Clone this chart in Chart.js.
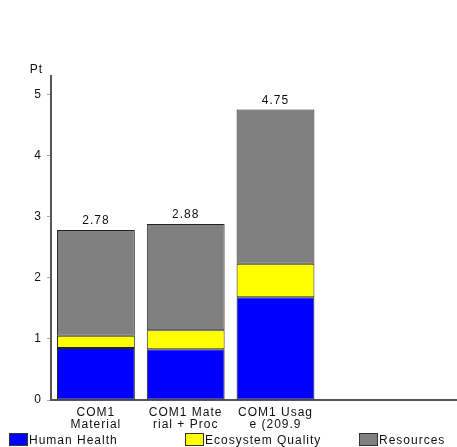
<!DOCTYPE html>
<html>
<head>
<meta charset="utf-8">
<script src="https://cdn.jsdelivr.net/npm/chart.js@4/dist/chart.umd.min.js"></script>
<style>
  body { margin: 0; background: #fff; font-family: "Liberation Sans", Arial, sans-serif; }
  #wrap { position: relative; width: 457px; height: 447px; overflow: hidden; }
  #chart { position: absolute; left: 0; top: 0; }
  .leg { position: absolute; top: 433px; font-size: 12px; letter-spacing: 1px; color: #111; line-height: 14px; white-space: nowrap; }
  .leg span { display: inline-block; width: 17px; height: 11px; border: 1px solid #333; vertical-align: -2px; margin-right: 1px; }
</style>
</head>
<body>
<div id="wrap">
  <canvas id="chart" width="500" height="447"></canvas>
  <div class="leg" style="left:9px"><span style="background:#0000ff"></span>Human Health</div>
  <div class="leg" style="left:185px"><span style="background:#ffff00"></span>Ecosystem Quality</div>
  <div class="leg" style="left:359px"><span style="background:#808080"></span>Resources</div>
</div>
<script>
const categories = [['COM1', 'Material'], ['COM1 Mate', 'rial + Proc'], ['COM1 Usag', 'e (209.9'], '', ''];
const humanHealth = [0.85, 0.83, 1.68];
const ecosystemQuality = [0.20, 0.31, 0.55];
const resources = [1.73, 1.74, 2.52];
const yTicks = [0, 1, 2, 3, 4, 5];

const FONT = '"Liberation Sans", Arial, sans-serif';

// wider text spacing like the original
const spacing = {
  id: 'spacing',
  beforeUpdate(chart) { chart.ctx.letterSpacing = '1px'; },
  beforeDraw(chart) { chart.ctx.letterSpacing = '1px'; }
};

// totals above bars + "Pt" unit label
const extras = {
  id: 'extras',
  afterDatasetsDraw(chart) {
    const ctx = chart.ctx;
    const y = chart.scales.y;
    ctx.save();
    ctx.font = '12px ' + FONT;
    ctx.fillStyle = '#111';
    ctx.textAlign = 'center';
    ctx.textBaseline = 'bottom';
    const top = chart.getDatasetMeta(2);
    top.data.forEach((bar, i) => {
      const total = humanHealth[i] + ecosystemQuality[i] + resources[i];
      ctx.fillText(total.toFixed(2), bar.x, y.getPixelForValue(total) - 3);
    });
    ctx.textAlign = 'right';
    ctx.textBaseline = 'middle';
    ctx.fillText('Pt', chart.chartArea.left - 8, chart.chartArea.top - 6);
    ctx.restore();
  }
};

new Chart(document.getElementById('chart'), {
  type: 'bar',
  data: {
    labels: categories,
    datasets: [
      { label: 'Human Health', data: humanHealth, backgroundColor: '#0000ff' },
      { label: 'Ecosystem Quality', data: ecosystemQuality, backgroundColor: '#ffff00' },
      { label: 'Resources', data: resources, backgroundColor: '#808080' }
    ].map(d => ({ ...d, borderColor: '#222', borderWidth: 1, borderSkipped: false, barPercentage: 0.867, categoryPercentage: 1 }))
  },
  options: {
    responsive: false,
    animation: false,
    layout: { padding: { top: 76, right: 0, left: 0, bottom: 0 } },
    scales: {
      x: {
        stacked: true,
        grid: { display: false, drawTicks: false },
        border: { display: true, color: '#555', width: 2 },
        ticks: { color: '#111', padding: 7, maxRotation: 0, autoSkip: false, font: { size: 12, family: FONT, lineHeight: 1.0 } },
        afterFit(scale) { scale.height = 47; }
      },
      y: {
        stacked: true,
        min: 0,
        max: 5.3,
        grid: { drawOnChartArea: false, drawTicks: true, tickLength: 4, color: '#aaa' },
        border: { display: true, color: '#555', width: 2 },
        ticks: { stepSize: 1, color: '#111', padding: 5, font: { size: 12, family: FONT } },
        afterBuildTicks(scale) { scale.ticks = yTicks.map(v => ({ value: v })); },
        afterFit(scale) { scale.width = 51; }
      }
    },
    plugins: {
      legend: { display: false },
      tooltip: { enabled: false }
    }
  },
  plugins: [spacing, extras]
});
</script>
</body>
</html>
